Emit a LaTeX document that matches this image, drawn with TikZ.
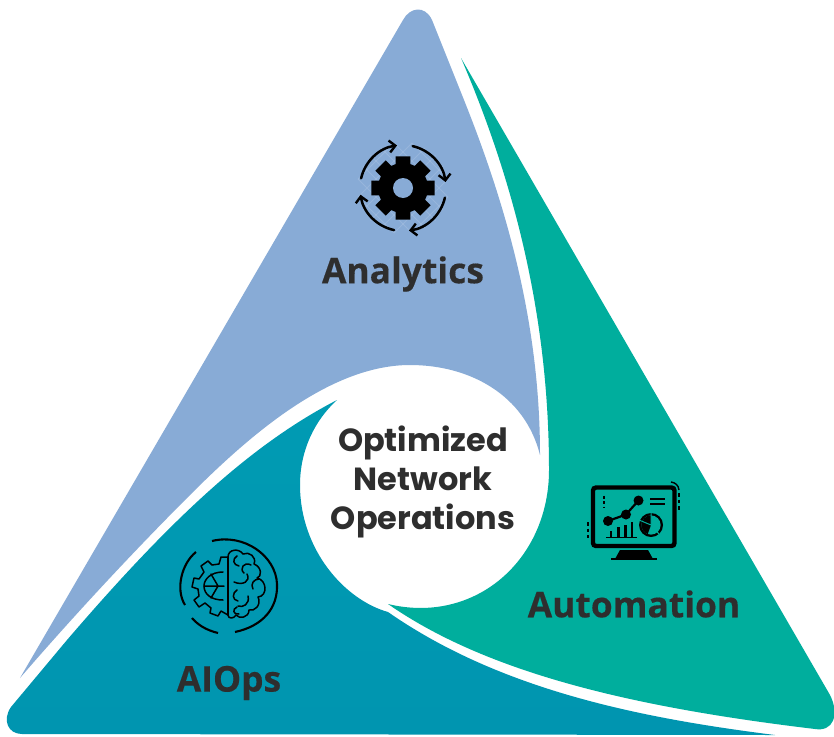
\documentclass[tikz,border=0pt]{standalone}
\usepackage{fontspec}
\setmainfont{Open Sans}
\newfontfamily\pop{Poppins}
\usetikzlibrary{arrows.meta}
\definecolor{blu}{HTML}{88ABD6}
\definecolor{tea}{HTML}{00AE9D}
\definecolor{aiA}{HTML}{009BB3}
\definecolor{aiB}{HTML}{0095B0}
\definecolor{ink}{HTML}{2E2E2E}
\tikzset{
 lbl/.style={font=\fontsize{35.4}{36}\selectfont\bfseries\addfontfeature{FakeBold=0.35},text=ink,inner sep=0pt,anchor=center},
 ctr/.style={font=\pop\fontsize{32}{39}\selectfont\bfseries,text=ink,inner sep=0pt,align=center},
 thk/.style={line width=2.5pt,black,line cap=round},
 thn/.style={line width=1.5pt,black,line cap=round,line join=round},
 arc1/.style={line width=2.1pt,black,line cap=butt},
 arw/.style={thk,-{Straight Barb[length=6pt,width=12pt,line width=2.4pt]}},
}
\begin{document}
\begin{tikzpicture}[x=1pt,y=-1pt]
\useasboundingbox (0,0) rectangle (834,736);
\fill[white] (0,0) rectangle (834,736);
% Analytics
\fill[blu] (20,678) -- (403,20) .. controls (410,7) and (425,5) .. (432,20)
  -- (464,100) .. controls (510,215) and (540,330) .. (540,455)
  .. controls (525,395) and (470,365) .. (410,365)
  .. controls (330,365) and (250,435) .. (190,495)
  .. controls (130,555) and (70,620) .. (20,678) -- cycle;
% Automation
\fill[tea] (461,58) -- (830,695) .. controls (840,715) and (833,732) .. (815,729)
  .. controls (640,708) and (490,675) .. (388,604)
  .. controls (475,625) and (549,560) .. (549,470)
  .. controls (549,330) and (520,195) .. (461,58) -- cycle;
% AIOps
\path[top color=aiA,bottom color=aiB] (337,400) .. controls (250,445) and (170,520) .. (67,640)
  -- (11,707) .. controls (2,720) and (8,734) .. (22,734)
  -- (775,735) .. controls (640,718) and (500,690) .. (388,612)
  .. controls (345,600) and (300,550) .. (300,485)
  .. controls (300,450) and (315,420) .. (337,400) -- cycle;
% labels
\node[lbl] (an) at (403,274) {Analytics};
\node[lbl] (au) at (634,604) {Automation};
\node[lbl] (ai) at (229,683) {AIOps};
\node[ctr] (op) at (423,482) {Optimized\\Network\\Operations};
% gear icon
\begin{scope}[shift={(403,188)}]
 \begin{scope}
  \clip (0,0) circle[radius=46];
  \foreach \d in {-90,-72,...,90} {
   \draw[white,opacity=0.13,line width=0.8pt] (\d-60,-60) -- (\d+60,60) (\d-60,60) -- (\d+60,-60);
  }
 \end{scope}
 \fill[black] ({-17}:25)
 \foreach \a in {0,45,...,315} {
  -- ({\a-17}:25) -- ({\a-13}:32.5) -- ({\a+13}:32.5) -- ({\a+17}:25) -- ({\a+28}:25)
 } -- cycle;
 \fill[blu] (0,0) circle[radius=10];
 \draw[arw] (-167:43) arc[start angle=-167,end angle=-98,radius=43];
 \draw[arw] (-77:43) arc[start angle=-77,end angle=-8,radius=43];
 \draw[arw] (13:43) arc[start angle=13,end angle=82,radius=43];
 \draw[arw] (102:43) arc[start angle=102,end angle=171,radius=43];
\end{scope}
% monitor icon
\begin{scope}[shift={(570,470)}]
 \draw[black,line width=4.4pt,rounded corners=3pt] (23,17.5) rectangle (104.5,76);
 \fill[black] (50,80) -- (78,80) -- (83,89) -- (45,89) -- cycle;
 \fill[black] (41,88) rectangle (87,90);
 \draw[black,line width=2.2pt] (38,51) -- (56,44.5) -- (68.5,30.5);
 \fill[black] (38,51) circle[radius=5] (56,44.5) circle[radius=5] (68.5,30.5) circle[radius=5];
 \draw[black,line width=1.5pt] (36,67.5) -- (67,67.5);
 \foreach \x/\t in {41/61,48.5/57,55.5/55,62/52} \fill[black] (\x-1.2,67.5) rectangle (\x+1.2,\t);
 \fill[black] (81,55) circle[radius=12];
 \fill[tea] (81,55) circle[radius=9.6];
 \fill[black] (81,55) -- (81,45.4) arc[start angle=-90,end angle=-250,radius=9.6] -- cycle;
 \draw[tea,line width=1pt] (81,55) -- (81,43) (81,55) -- (69,50) (81,55) -- (89,64);
 \draw[black,line width=1.6pt] (80,29) -- (94.5,29) (80,34) -- (94.5,34);
 \draw[black,line width=2pt,dash pattern=on 3pt off 2.6pt] (33.5,25.5) -- (33.5,38);
 \draw[black,line width=2pt,dash pattern=on 3.5pt off 3pt] (18,52) -- (18,68);
 \draw[black,line width=2pt,dash pattern=on 3.5pt off 3pt] (109,23) -- (109,40);
 \draw[black,line width=1.4pt] (101,12) .. controls (105,12.5) and (108.5,15) .. (109,20);
\end{scope}
% brain icon
\begin{scope}[shift={(229,586)}]
 \draw[arc1] (-17,-45) .. controls (15,-53) and (47,-30) .. (48,-2) .. controls (49,22) and (34,40) .. (6,46);
 \draw[arc1] (-33,-34) .. controls (-47,-23) and (-54,3) .. (-44,19);
 \draw[arc1] (-37,32) .. controls (-31,39) and (-23,44) .. (-11,47);
 \draw[thn] (-1,-29) -- (-1,29);
 \draw[thn] (-1,-29) -- (-8,-29) -- (-10,-22) -- (-17,-21) -- (-21,-25) -- (-28,-20) -- (-25,-14) -- (-30,-7) -- (-35,-8) -- (-37,1) -- (-31,3) -- (-30,10) -- (-35,14) -- (-30,21) -- (-24,17) -- (-18,22) -- (-19,27) -- (-11,30) -- (-8,25) -- (-1,29);
 \draw[thn] (-6,-14) .. controls (-18,-14) and (-25,-7) .. (-25,0) .. controls (-25,8) and (-18,14) .. (-6,14);
 \draw[thn] (-25,0) -- (-5,0) (-18,-12) -- (-11,0) -- (-18,12);
 \draw[thn] (-1,-29) .. controls (-1,-37) and (10,-38) .. (14,-32) .. controls (20,-35) and (28,-29) .. (25,-22)
   .. controls (33,-19) and (33,-9) .. (28,-8) .. controls (38,-6) and (39,10) .. (29,11)
   .. controls (33,19) and (25,26) .. (20,24) .. controls (20,32) and (10,33) .. (7,29)
   .. controls (5,33) and (-1,33) .. (-1,29);
 \draw[thn] (8,-30) .. controls (3,-27) and (4,-21) .. (10,-20);
 \draw[thn] (22,-21) .. controls (15,-25) and (10,-17) .. (15,-13);
 \draw[thn] (18,-12) .. controls (22,-5) and (14,0) .. (5,-4);
 \draw[thn] (30,-7) .. controls (25,-7) and (21,-2) .. (24,3);
 \draw[thn] (8,4) .. controls (3,7) and (3,14) .. (9,15);
 \draw[thn] (19,10) .. controls (21,18) and (14,22) .. (9,20);
 \draw[thn] (8,21) .. controls (3,23) and (4,29) .. (10,28);
\end{scope}
\end{tikzpicture}
\end{document}
